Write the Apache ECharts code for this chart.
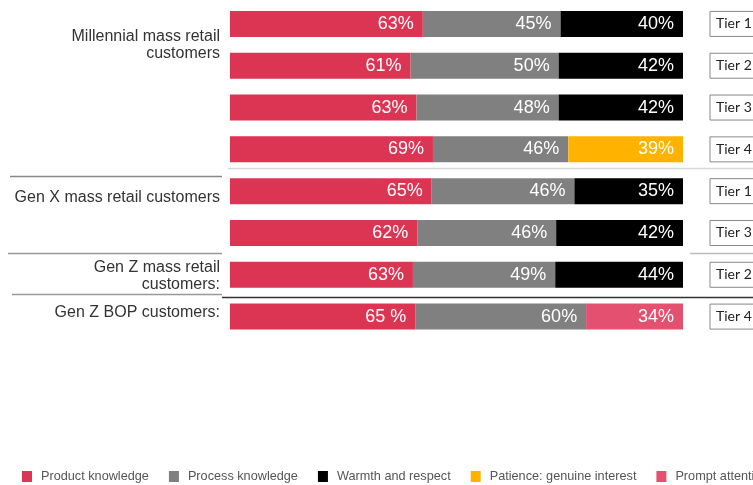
<!DOCTYPE html>
<html>
<head>
<meta charset="utf-8">
<script src="https://cdn.jsdelivr.net/npm/echarts@6/dist/echarts.min.js"></script>
<style>
  html, body { margin: 0; padding: 0; background: #fff; }
  #chart { width: 753px; height: 485px; }
</style>
</head>
<body>
<div id="chart"></div>
<script>
// Row keys (one bar per customer segment / tier)
const rows = ['m1', 'm2', 'm3', 'm4', 'x1', 'x3', 'z2', 'b4'];
// Segment names shown at the left, one per group (empty where a group continues)
const groupLabels = [
  'Millennial mass retail\ncustomers', '', '', '',
  'Gen X mass retail customers', '',
  'Gen Z mass retail\ncustomers:',
  'Gen Z BOP customers:'
];
// Tier tag shown at the right of each bar
const tiers = ['Tier 1', 'Tier 2', 'Tier 3', 'Tier 4', 'Tier 1', 'Tier 3', 'Tier 2', 'Tier 4'];

const seriesNames = ['Product knowledge', 'Process knowledge', 'Warmth and respect', 'Patience: genuine interest', 'Prompt attention'];
const productKnowledge = [63, 61, 63, 69, 65, 62, 63, 65];
const processKnowledge = [45, 50, 48, 46, 46, 46, 49, 60];
const warmthRespect    = [40, 42, 42, null, 35, 42, 44, null];
const patience         = [null, null, null, 39, null, null, null, null];
const promptAttention  = [null, null, null, null, null, null, null, 34];
const seriesColors = ['#dc3553', '#808080', '#000000', '#ffb300', '#e4506f'];

const allValues = [productKnowledge, processKnowledge, warmthRespect, patience, promptAttention];
// Each bar fills the full width: segments are shares of the row's total
const rowTotals = rows.map((_, i) => allValues.reduce((s, arr) => s + (arr[i] || 0), 0));

// Label text as printed on the bars
function labelText(si, i) {
  if (si === 0 && i === 7) return '65 %';
  return allValues[si][i] + '%';
}

// Vertical nudge of each group name relative to its row (spacer above > 0, below < 0)
const leftShift = [43, 0, 0, 0, 12, 0, 3, -9];

function groupLabel(i) {
  const text = groupLabels[i];
  if (!text) return '';
  const lines = text.split('\n').map(l => '{t|' + l + '}');
  const s = leftShift[i];
  if (s > 0) lines.unshift('{s' + s + '| }');
  if (s < 0) lines.push('{s' + (-s) + '| }');
  return lines.join('\n');
}
const spacerRich = {};
leftShift.forEach(s => {
  if (s) spacerRich['s' + Math.abs(s)] = { lineHeight: Math.abs(s), fontSize: 1 };
});

const chart = echarts.init(document.getElementById('chart'));

const option = {
  animation: false,
  grid: { left: 230, right: 70, top: 3, height: 334.5, containLabel: false, outerBoundsMode: 'none' },
  xAxis: { type: 'value', min: 0, max: 100, show: false },
  yAxis: [
    {
      type: 'category',
      inverse: true,
      data: rows,
      axisLine: { show: false }, axisTick: { show: false },
      axisLabel: {
        margin: 10,
        align: 'right',
        formatter: (v, i) => groupLabel(i),
        rich: Object.assign({
          t: {
            color: '#333',
            fontFamily: 'Liberation Sans, Arial, sans-serif',
            fontSize: 16,
            lineHeight: 17,
            align: 'right'
          }
        }, spacerRich)
      }
    },
    {
      type: 'category',
      inverse: true,
      position: 'right',
      data: rows,
      axisLine: { show: false }, axisTick: { show: false },
      axisLabel: {
        margin: 27,
        color: '#222',
        fontFamily: 'Lato, Carlito, Calibri, sans-serif',
        fontSize: 14,
        align: 'left',
        borderColor: '#888',
        borderWidth: 1,
        padding: [6, 30, 5, 6],
        formatter: (v, i) => tiers[i]
      }
    }
  ],
  legend: {
    left: 17,
    top: 465,
    width: 1200,
    itemWidth: 10,
    itemHeight: 11,
    itemGap: 20,
    icon: 'rect',
    textStyle: { color: '#555', fontSize: 12.7, fontFamily: 'Liberation Sans, Arial, sans-serif', padding: [0, 0, 0, 4] },
    data: seriesNames
  },
  series: seriesNames.map((name, si) => ({
    name,
    type: 'bar',
    stack: 'total',
    barWidth: 26,
    itemStyle: { color: seriesColors[si] },
    label: {
      show: true,
      position: 'insideRight',
      distance: 9,
      color: '#fff',
      fontSize: 18,
      fontFamily: 'Liberation Sans, Arial, sans-serif',
      formatter: p => labelText(si, p.dataIndex)
    },
    data: allValues[si].map((v, i) => v == null ? null : v / rowTotals[i] * 100)
  }))
};

chart.setOption(option);

// Group separators at the boundaries between customer groups
const band = chart.convertToPixel({ yAxisIndex: 0 }, 'm2') - chart.convertToPixel({ yAxisIndex: 0 }, 'm1');
const boundary = i => chart.convertToPixel({ yAxisIndex: 0 }, rows[i]) - band / 2;
const seps = [
  { y: boundary(4), left: [10, 222, 6, '#888'], right: [228, 753, -2, '#d8d8d8'] },
  { y: boundary(6), left: [8, 222, -1, '#999'], right: [690, 753, -1, '#bbb'] },
  { y: boundary(7), left: [12, 222, -2, '#999'], right: [222, 753, 1, '#333'] }
];
const graphics = [];
seps.forEach(s => {
  [s.left, s.right].forEach(([x1, x2, dy, c]) => {
    const y = Math.round(s.y + dy) + 0.5;
    graphics.push({ type: 'line', shape: { x1, y1: y, x2, y2: y }, style: { stroke: c, lineWidth: 1.3 }, silent: true });
  });
});
chart.setOption({ graphic: graphics });
</script>
</body>
</html>
